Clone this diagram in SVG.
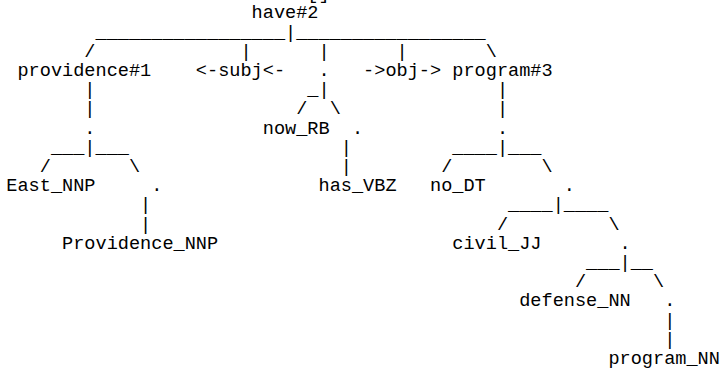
<svg xmlns="http://www.w3.org/2000/svg" width="721" height="368" viewBox="0 0 721 368">
<style>
text{font-family:"Liberation Mono","Courier New",monospace;font-size:18.58px;fill:#000;white-space:pre}
</style>
<rect width="721" height="368" fill="#fff"/>
<text x="307.35" y="-0.9">[]</text>
<g id="connectors">
<text x="95.5" y="37.5">_________________|_________________</text>
<text x="84.35" y="56.7">/</text>
<text x="240.45" y="56.7">|</text>
<text x="318.5" y="56.7">|</text>
<text x="396.55" y="56.7">|</text>
<text x="485.75" y="56.7">\</text>
<text x="84.35" y="95.1">|</text>
<text x="307.35" y="95.1">_|</text>
<text x="496.9" y="95.1">|</text>
<text x="84.35" y="114.3">|</text>
<text x="296.2" y="114.3">/</text>
<text x="329.65" y="114.3">\</text>
<text x="496.9" y="114.3">|</text>
<text x="50.9" y="152.7">___|___</text>
<text x="340.8" y="152.7">|</text>
<text x="452.3" y="152.7">____|___</text>
<text x="39.75" y="171.9">/</text>
<text x="128.95" y="171.9">\</text>
<text x="340.8" y="171.9">|</text>
<text x="441.15" y="171.9">/</text>
<text x="541.5" y="171.9">\</text>
<text x="140.1" y="210.3">|</text>
<text x="508.05" y="210.3">____|____</text>
<text x="140.1" y="229.5">|</text>
<text x="496.9" y="229.5">/</text>
<text x="608.4" y="229.5">\</text>
<text x="586.1" y="267.9">___|__</text>
<text x="574.95" y="287.1">/</text>
<text x="653" y="287.1">\</text>
<text x="664.15" y="325.5">|</text>
<text x="664.15" y="344.7">|</text>
</g>
<g id="n-have"><text x="251.6" y="18.3">have#2</text></g>
<g id="n-providence1"><text x="17.45" y="75.9">providence#1</text></g>
<g id="n-subj"><text x="195.85" y="75.9">&lt;-subj&lt;-</text></g>
<g id="n-dot1"><text x="318.5" y="75.9">.</text></g>
<g id="n-obj"><text x="363.1" y="75.9">-&gt;obj-&gt;</text></g>
<g id="n-program3"><text x="452.3" y="75.9">program#3</text></g>
<g id="n-dot2"><text x="84.35" y="133.5">.</text></g>
<g id="n-now"><text x="262.75" y="133.5">now_RB</text></g>
<g id="n-dot3"><text x="351.95" y="133.5">.</text></g>
<g id="n-dot4"><text x="496.9" y="133.5">.</text></g>
<g id="n-east"><text x="6.3" y="191.1">East_NNP</text></g>
<g id="n-dot5"><text x="151.25" y="191.1">.</text></g>
<g id="n-has"><text x="318.5" y="191.1">has_VBZ</text></g>
<g id="n-no"><text x="430" y="191.1">no_DT</text></g>
<g id="n-dot6"><text x="563.8" y="191.1">.</text></g>
<g id="n-providence"><text x="62.05" y="248.7">Providence_NNP</text></g>
<g id="n-civil"><text x="452.3" y="248.7">civil_JJ</text></g>
<g id="n-dot7"><text x="619.55" y="248.7">.</text></g>
<g id="n-defense"><text x="519.2" y="306.3">defense_NN</text></g>
<g id="n-dot8"><text x="664.15" y="306.3">.</text></g>
<g id="n-program"><text x="608.4" y="363.9">program_NN</text></g>
</svg>
